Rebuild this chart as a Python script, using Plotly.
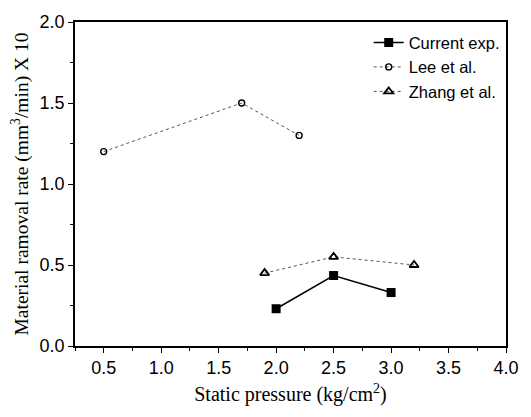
import plotly.graph_objects as go

cur_x = [2.0, 2.5, 3.0]
cur_y = [0.23, 0.435, 0.33]
lee_x = [0.5, 1.7, 2.2]
lee_y = [1.20, 1.50, 1.30]
zhang_x = [1.9, 2.5, 3.2]
zhang_y = [0.45, 0.55, 0.50]

x_ticks = [0.5, 1.0, 1.5, 2.0, 2.5, 3.0, 3.5, 4.0]
y_ticks = [0.0, 0.5, 1.0, 1.5, 2.0]

fig = go.Figure()
fig.add_trace(go.Scatter(x=cur_x, y=cur_y, mode="lines+markers", name="Current exp.",
                         line=dict(color="black", width=1.5),
                         marker=dict(symbol="square", size=9, color="black")))
fig.add_trace(go.Scatter(x=lee_x, y=lee_y, mode="lines+markers", name="Lee et al.",
                         line=dict(color="#555", width=1, dash="dot"),
                         marker=dict(symbol="circle-open", size=6, color="black", line=dict(width=1.4))))
fig.add_trace(go.Scatter(x=zhang_x, y=zhang_y, mode="lines+markers", name="Zhang et al.",
                         line=dict(color="#555", width=1, dash="dot"),
                         marker=dict(symbol="triangle-up-open", size=8, color="black", line=dict(width=1.8))))

axis_common = dict(showline=True, linecolor="black", linewidth=1.5, mirror=True,
                   ticks="outside", ticklen=5, tickwidth=1, tickcolor="black",
                   showgrid=False, zeroline=False,
                   tickfont=dict(family="Liberation Sans, Arial", size=18, color="black"))

fig.update_xaxes(range=[0.25, 4.0], tickvals=x_ticks, ticktext=[f"{v:.1f}" for v in x_ticks],
                 minor=dict(ticks="outside", ticklen=3, dtick=0.25, tick0=0.25, tickcolor="black"),
                 title=dict(text="Static pressure (kg/cm<sup>2</sup>)",
                            font=dict(family="Liberation Serif, Times New Roman", size=20, color="black"),
                            standoff=10),
                 **axis_common)
fig.update_yaxes(range=[0.0, 2.0], tickvals=y_ticks, ticktext=[f"{v:.1f}" for v in y_ticks],
                 minor=dict(ticks="outside", ticklen=3, dtick=0.25, tick0=0, tickcolor="black"),
                 title=dict(text="Material ramoval rate (mm<sup>3</sup>/min) X 10",
                            font=dict(family="Liberation Serif, Times New Roman", size=19.5, color="black"),
                            standoff=6),
                 **axis_common)

fig.update_layout(width=531, height=417, margin=dict(l=75, r=14, t=15, b=71),
                  plot_bgcolor="white", paper_bgcolor="white",
                  legend=dict(x=0.997, xanchor="right", y=0.99, yanchor="top",
                              font=dict(family="Liberation Sans, Arial", size=16.5, color="black"),
                              bgcolor="rgba(0,0,0,0)", itemwidth=30, tracegroupgap=0),
                  showlegend=True)

fig.write_html("out.html")
